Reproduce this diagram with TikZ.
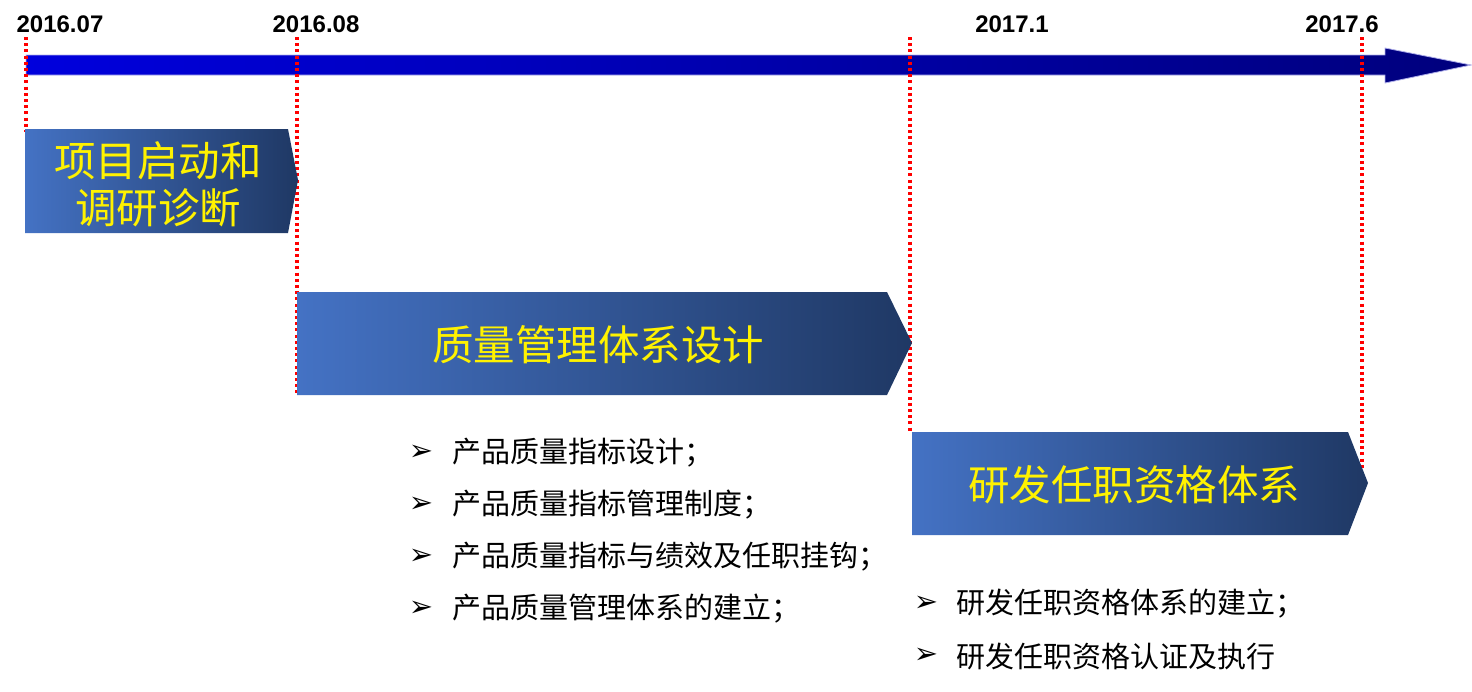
\documentclass[tikz,border=0pt]{standalone}
\usepackage{fontspec}
\setmainfont{Liberation Sans}
\newfontfamily\cjk{Noto Sans CJK SC}
\newfontfamily\dejavu{DejaVu Sans Bold}
\definecolor{boxL}{RGB}{68,114,196}
\definecolor{boxR}{RGB}{31,56,100}
\definecolor{barL}{RGB}{0,0,221}
\definecolor{barR}{RGB}{0,0,125}
\definecolor{barEdge}{RGB}{175,175,235}
\tikzset{
  datelbl/.style={anchor=base, inner sep=0pt, font=\bfseries\fontsize{24}{24}\selectfont},
  redline/.style={red, line width=3.2pt, dash pattern=on 3pt off 3.2pt},
  phase/.style={left color=boxL, right color=boxR},
  phasetxt/.style={inner sep=0pt, text=yellow, align=center, font=\cjk\fontsize{41.5}{47}\selectfont},
  bullet/.style={inner sep=0pt, font=\dejavu\fontsize{29}{29}\selectfont},
  itemtxt/.style={anchor=west, inner sep=0pt, font=\cjk\fontsize{29}{29}\selectfont}
}
\begin{document}
\begin{tikzpicture}[x=1pt,y=-1pt]
\useasboundingbox (0,0) rectangle (1472,691);
% timeline arrow
\shade[left color=barL, right color=barR, draw=barEdge, line width=0.8pt]
  (26,55) -- (1385,55) -- (1385,48) -- (1471,65) -- (1385,83) -- (1385,75) -- (26,75) -- cycle;
% red dotted guide lines
\coordinate (g1a) at (26,37);   \coordinate (g1b) at (26,132);
\coordinate (g2a) at (297,37);  \coordinate (g2b) at (297,395);
\coordinate (g3a) at (910,37);  \coordinate (g3b) at (910,432);
\coordinate (g4a) at (1362,37); \coordinate (g4b) at (1362,470);
\draw[redline] (g1a) -- (g1b);
\draw[redline] (g2a) -- (g2b);
\draw[redline] (g3a) -- (g3b);
\draw[redline] (g4a) -- (g4b);
% date labels
\node[datelbl] (d1) at (60,32) {2016.07};
\node[datelbl] (d2) at (316,32) {2016.08};
\node[datelbl] (d3) at (1012,32) {2017.1};
\node[datelbl] (d4) at (1342,32) {2017.6};
% phase boxes
\shade[phase] (25,129) -- (288,129) -- (298,180) -- (288,233) -- (25,233) -- cycle;
\shade[phase] (297,292) -- (887,292) -- (912,343) -- (887,395) -- (297,395) -- cycle;
\shade[phase] (912,432) -- (1348,432) -- (1368,483) -- (1348,535) -- (912,535) -- cycle;
\node[phasetxt] (p1) at (158,184) {项目启动和\\调研诊断};
\node[phasetxt] (p2) at (598,345) {质量管理体系设计};
\node[phasetxt] (p3) at (1134,485) {研发任职资格体系};
% bullet lists
\node[bullet] (b1) at (421,453) {➢}; \node[itemtxt] (t1) at (452,453) {产品质量指标设计；};
\node[bullet] (b2) at (421,505) {➢}; \node[itemtxt] (t2) at (452,505) {产品质量指标管理制度；};
\node[bullet] (b3) at (421,557) {➢}; \node[itemtxt] (t3) at (452,557) {产品质量指标与绩效及任职挂钩；};
\node[bullet] (b4) at (421,609) {➢}; \node[itemtxt] (t4) at (452,609) {产品质量管理体系的建立；};
\node[bullet] (b5) at (926,604) {➢}; \node[itemtxt] (t5) at (956,604) {研发任职资格体系的建立；};
\node[bullet] (b6) at (926,656) {➢}; \node[itemtxt] (t6) at (956,656) {研发任职资格认证及执行};
\end{tikzpicture}
\end{document}
